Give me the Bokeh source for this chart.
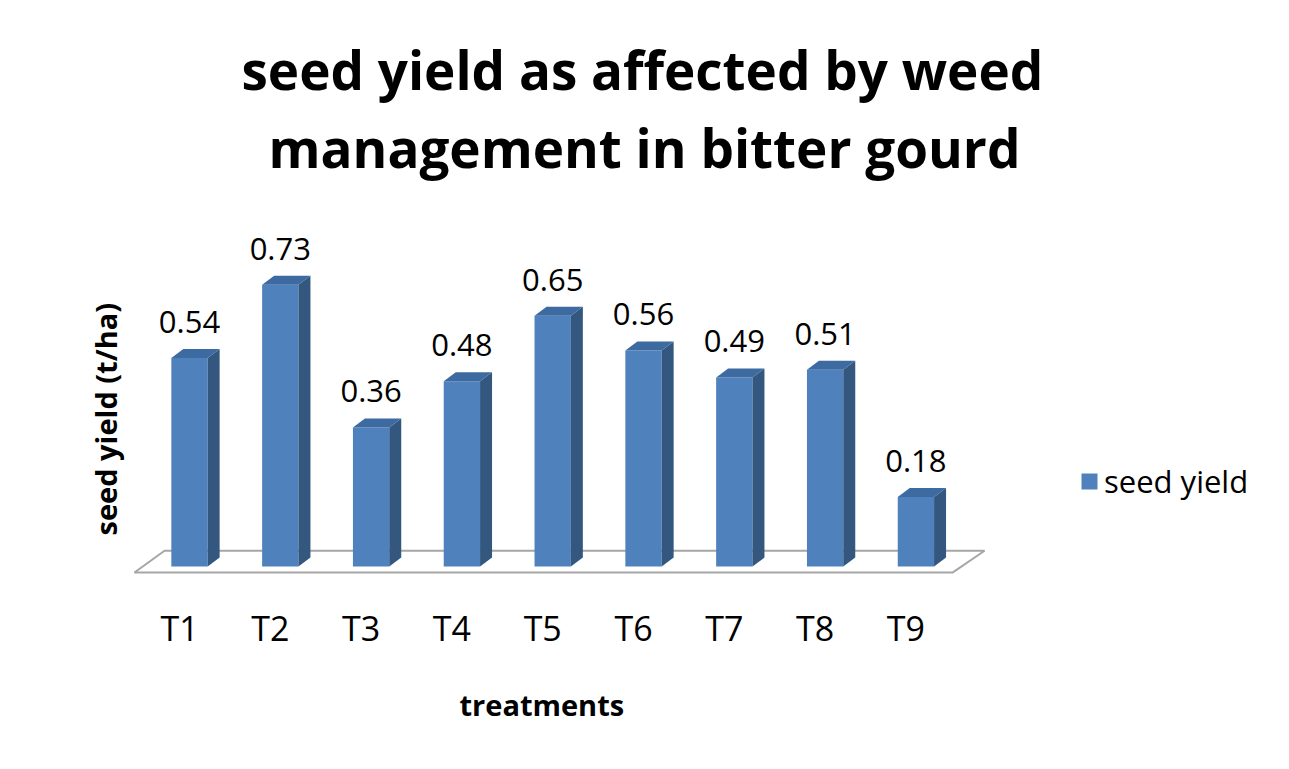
from bokeh.plotting import figure
from bokeh.models import Range1d, FixedTicker, Title, Legend, LegendItem, ColumnDataSource
from bokeh.core.properties import value
from bokeh.embed import file_html
from bokeh.resources import INLINE

# ---- data ----
categories = ["T1", "T2", "T3", "T4", "T5", "T6", "T7", "T8", "T9"]
seed_yield = [0.54, 0.73, 0.36, 0.48, 0.65, 0.56, 0.49, 0.51, 0.18]
series_name = "seed yield"
title_line1 = "seed yield as affected by weed"
title_line2 = "management  in bitter gourd"
x_label = "treatments"
y_label = "seed yield (t/ha)"

# ---- style constants ----
FRONT = "#4F81BD"
SIDE = "#34577f"
TOP = "#3d6aa0"
FONT = "Open Sans"
BAR_W = 0.40      # bar width in category units
SHIFT = 0.11      # bar offset from tick (perspective)
DX = 0.132        # depth in x units
DY = 0.0233       # depth in y units

n = len(categories)
xpos = [i + 1 + SHIFT for i in range(n)]
left = [x - BAR_W / 2 for x in xpos]
right = [x + BAR_W / 2 for x in xpos]

src = ColumnDataSource(dict(x=xpos, top=seed_yield,
                            lab=[f"{v:.2f}" for v in seed_yield],
                            ly=[v + 0.065 for v in seed_yield]))

W, H = 1273, 753
p = figure(width=W, height=H, output_backend="svg", toolbar_location=None,
           x_range=Range1d(0.4934, 13.004), y_range=Range1d(-0.0594, 0.9897),
           y_axis_location=None,
           min_border_left=133, min_border_right=4, min_border_top=184,
           min_border_bottom=163)
p.background_fill_color = "white"
p.border_fill_color = "white"
p.outline_line_color = None
p.grid.visible = False
# thin grey chart-area border on the left and top
p.styles = {"box-shadow": ("inset 6px 0 0 0 #ffffff, inset 0 2px 0 0 #ffffff, "
                           "inset 8px 0 0 0 #8c8c8c, inset 0 4px 0 0 #8c8c8c")}

# floor
fx = [[1 - 0.496, n + 0.513, n + 0.866, 1 - 0.165]]
fy = [[-0.0155, -0.0155, 0.041, 0.041]]
p.patches(fx, fy, fill_color="white", line_color="#a6a6a6", line_width=2)

# bars: front face
bars = p.vbar(x="x", top="top", bottom=0, width=BAR_W, source=src,
              fill_color=FRONT, line_color=None)
# side faces
p.patches([[r, r + DX, r + DX, r] for r in right],
          [[0, DY, v + DY, v] for v in seed_yield],
          fill_color=SIDE, line_color=None)
# top faces
p.patches([[l, l + DX, r + DX, r] for l, r in zip(left, right)],
          [[v, v + DY, v + DY, v] for v in seed_yield],
          fill_color=TOP, line_color=None)

# data labels
p.text(x="x", y="ly", text="lab", source=src, text_align="center",
       text_baseline="bottom", text_font=value(FONT), text_font_size="31px",
       text_color="black")

# x axis
p.xaxis.ticker = FixedTicker(ticks=list(range(1, n + 1)))
p.xaxis.major_label_overrides = {i + 1: c for i, c in enumerate(categories)}
p.xaxis.axis_line_color = None
p.xaxis.major_tick_line_color = None
p.xaxis.minor_tick_line_color = None
p.xaxis.major_tick_out = 0
p.xaxis.major_tick_in = 0
p.xaxis.minor_tick_out = 0
p.xaxis.minor_tick_in = 0
p.xaxis.major_label_text_font = FONT
p.xaxis.major_label_text_font_size = "34px"
p.xaxis.major_label_text_color = "black"
p.xaxis.major_label_standoff = 15

# axis titles (positioned over the plotting area rather than the whole frame)
xt = Title(text=x_label, align="left", offset=326, text_font=FONT,
           text_font_size="29px", text_font_style="bold", text_color="black",
           standoff=59)
p.add_layout(xt, "below")
yt = Title(text=y_label, align="left", offset=54, text_font=FONT,
           text_font_size="29px", text_font_style="bold", text_color="black",
           standoff=17)
p.add_layout(yt, "left")

# chart title (two lines)
p.title.text = title_line1
p.title.align = "left"
p.title.offset = 108
p.title.text_font = FONT
p.title.text_font_size = "53px"
p.title.text_font_style = "bold"
p.title.text_color = "black"
p.title.standoff = 4
t2 = Title(text=title_line2, align="left", offset=135, text_font=FONT,
           text_font_size="53px", text_font_style="bold", text_color="black",
           standoff=2)
p.add_layout(t2, "above")

# legend
legend = Legend(items=[LegendItem(label=series_name, renderers=[bars])],
                location=(946, 87), padding=0, margin=0, spacing=0,
                glyph_width=20, glyph_height=20, label_height=30,
                label_standoff=5, label_text_font=FONT,
                label_text_font_size="31px", label_text_color="black",
                background_fill_alpha=0, border_line_color=None)
p.add_layout(legend)

open("out.html", "w").write(file_html(p, INLINE))
